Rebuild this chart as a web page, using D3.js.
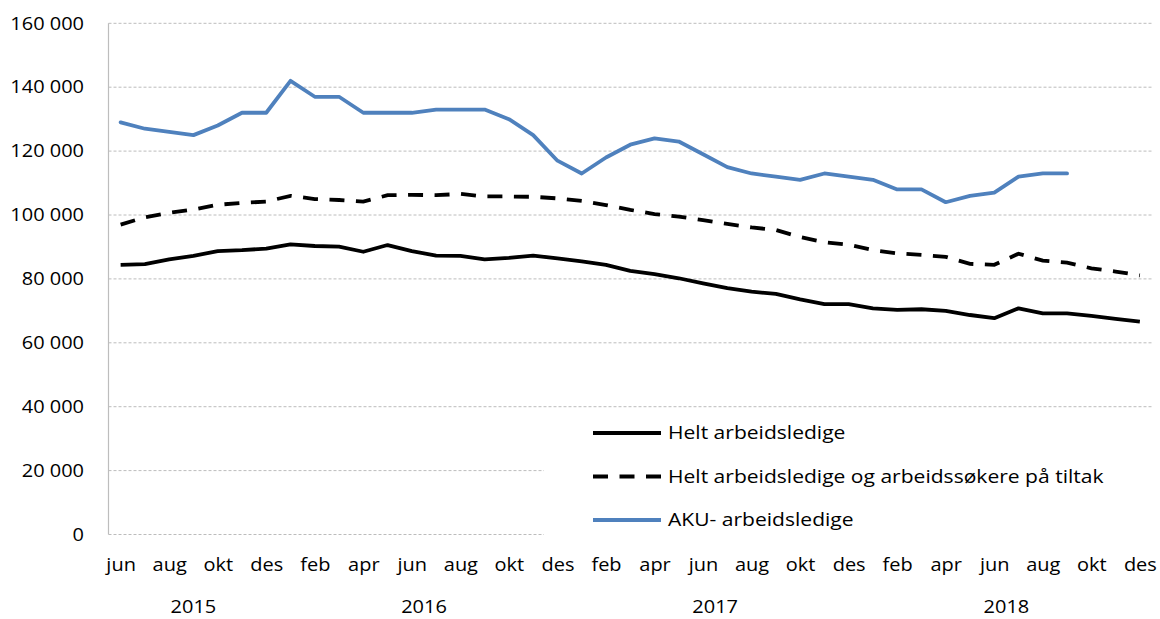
<!DOCTYPE html>
<html>
<head>
<meta charset="utf-8">
<script src="https://cdn.jsdelivr.net/npm/d3@7"></script>
<style>
  html, body { margin: 0; padding: 0; background: #fff; }
  svg text { font-family: "Open Sans", "Noto Sans", sans-serif; fill: #000; }
</style>
</head>
<body>
<svg id="chart" width="1160" height="619"></svg>
<script>
// ---- data ----
const months = ["jun","jul","aug","sep","okt","nov","des",
  "jan","feb","mar","apr","mai","jun","jul","aug","sep","okt","nov","des",
  "jan","feb","mar","apr","mai","jun","jul","aug","sep","okt","nov","des",
  "jan","feb","mar","apr","mai","jun","jul","aug","sep","okt","nov","des"];
const years = ["2015","2016","2017","2018"];
const yearStart = [0, 7, 19, 31];
const yearEnd = [6, 18, 30, 42];

const heltLedige = [84400,84600,86100,87200,88700,89000,89500,90800,90300,90100,88500,90600,
  88700,87300,87200,86100,86600,87300,86400,85500,84400,82500,81500,80200,78600,77100,76000,75300,
  73600,72100,72100,70800,70300,70500,70000,68700,67700,70800,69200,69200,68400,67500,66600];
const heltOgTiltak = [97000,99300,100700,101700,103200,103800,104200,106000,105000,104700,104200,106200,
  106300,106200,106600,105800,105800,105700,105200,104400,103100,101600,100300,99500,98400,97200,96100,95300,
  93100,91500,90700,89000,88000,87500,86900,84700,84400,87900,85700,85100,83300,82300,81100];
const aku = [129000,127000,126000,125000,128000,132000,132000,142000,137000,137000,132000,132000,
  132000,133000,133000,133000,130000,125000,117000,113000,118000,122000,124000,123000,119000,115000,113000,112000,
  111000,113000,112000,111000,108000,108000,104000,106000,107000,112000,113000,113000];
const yTicks = [0,20000,40000,60000,80000,100000,120000,140000,160000];
const seriesNames = ["Helt arbeidsledige","Helt arbeidsledige og arbeidssøkere på tiltak","AKU- arbeidsledige"];

// ---- layout ----
const svg = d3.select("#chart");
const pLeft = 108.5, pRight = 1152, pTop = 23.3, pBottom = 534.5;
const FS = "18px";
const AXIS_SX = 1.11, LEG_SX = 1.17;
const DASH = "15,11.5";

const idx = d3.range(months.length);
const x = d3.scalePoint().domain(idx).range([pLeft, pRight]).padding(0.5);
const y = d3.scaleLinear().domain([0,160000]).range([pBottom, pTop]);

const fmt = v => d3.format(",")(v).replace(/,/g, " ");

// gridlines
svg.append("g").selectAll("line").data(yTicks).join("line")
  .attr("x1", pLeft).attr("x2", pRight)
  .attr("y1", d => y(d)).attr("y2", d => y(d))
  .attr("stroke", "#bcbcbc").attr("stroke-width", 1)
  .attr("stroke-dasharray", "3,2");

// vertical axis line
svg.append("line").attr("x1", pLeft).attr("x2", pLeft).attr("y1", pTop).attr("y2", pBottom)
  .attr("stroke", "#bdbdbd").attr("stroke-width", 1.2);

// y axis labels
const yAxis = d3.axisLeft(y).tickValues(yTicks).tickFormat(fmt).tickSize(0).tickPadding(0);
const gy = svg.append("g").attr("transform", `translate(84,0)`).call(yAxis);
gy.select(".domain").remove();
gy.selectAll("text").attr("font-size", FS).attr("font-family", "Open Sans").attr("fill", "#000")
  .attr("transform", `scale(${AXIS_SX},1)`);

// x axis month labels (every second month)
const xAxis = d3.axisBottom(x).tickValues(idx.filter(i => i % 2 === 0))
  .tickFormat(i => months[i]).tickSize(0).tickPadding(0);
const gx = svg.append("g").attr("transform", `translate(0,558)`).call(xAxis);
gx.select(".domain").remove();
gx.selectAll("text").attr("font-size", FS).attr("font-family", "Open Sans").attr("fill", "#000")
  .attr("transform", `scale(${AXIS_SX},1)`);

// year labels
svg.append("g").selectAll("text").data(years).join("text")
  .attr("transform", (d, i) => `translate(${(x(yearStart[i]) + x(yearEnd[i])) / 2},613) scale(${AXIS_SX},1)`)
  .attr("text-anchor", "middle")
  .attr("font-size", FS)
  .text(d => d);

// lines
const line = d3.line().x((d, i) => x(i)).y(d => y(d));
svg.append("path").datum(heltLedige).attr("d", line)
  .attr("fill", "none").attr("stroke", "#000").attr("stroke-width", 3.8).attr("stroke-linejoin", "round");
svg.append("path").datum(heltOgTiltak).attr("d", line)
  .attr("fill", "none").attr("stroke", "#000").attr("stroke-width", 3.8).attr("stroke-dasharray", DASH);
svg.append("path").datum(aku).attr("d", line)
  .attr("fill", "none").attr("stroke", "#4f81bd").attr("stroke-width", 3.8)
  .attr("stroke-linejoin", "round").attr("stroke-linecap", "round");

// legend (white background covering gridlines)
const lg = svg.append("g");
lg.append("rect").attr("x", 544).attr("y", 414).attr("width", 616).attr("height", 130).attr("fill", "#fff");
const legendStyles = [
  {stroke: "#000", dash: null},
  {stroke: "#000", dash: DASH},
  {stroke: "#4f81bd", dash: null}
];
const rowY = [433, 476.5, 520];
const rows = lg.selectAll("g.row").data(seriesNames).join("g").attr("class", "row")
  .attr("transform", (d, i) => `translate(0,${rowY[i]})`);
rows.append("line").attr("x1", 593).attr("x2", 661).attr("y1", 0).attr("y2", 0)
  .attr("stroke", (d, i) => legendStyles[i].stroke).attr("stroke-width", 3.8)
  .attr("stroke-dasharray", (d, i) => legendStyles[i].dash);
rows.append("text").attr("transform", `translate(668,0) scale(${LEG_SX},1)`).attr("dy", "0.35em")
  .attr("font-size", FS).text(d => d);
</script>
</body>
</html>
